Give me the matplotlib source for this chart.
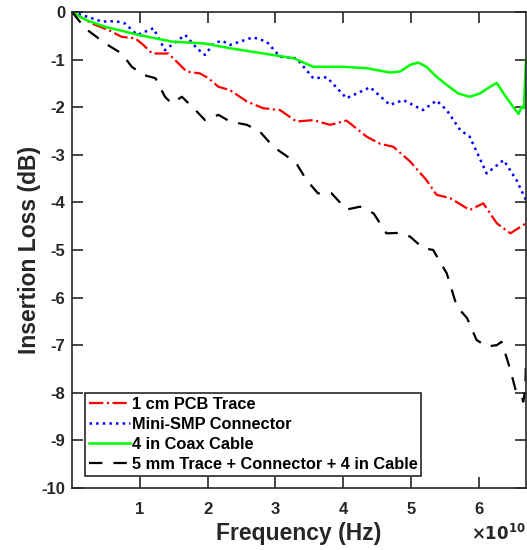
import matplotlib
matplotlib.use("Agg")
import matplotlib.pyplot as plt

plt.rcParams['font.family'] = ['Liberation Sans', 'DejaVu Sans']
plt.rcParams['font.weight'] = 'bold'
plt.rcParams['axes.unicode_minus'] = False

# frequencies in units of 1e10 Hz, loss in dB
f_pcb = [0, 0.29, 0.54, 0.73, 0.93, 1.05, 1.18, 1.42, 1.57, 1.69, 1.89, 2.01, 2.16, 2.33, 2.58, 2.82,
         3.07, 3.31, 3.56, 3.81, 4.05, 4.35, 4.55, 4.74, 4.99, 5.23, 5.38, 5.58, 5.87, 6.07, 6.27,
         6.47, 6.70]
il_pcb = [0, -0.24, -0.38, -0.52, -0.55, -0.69, -0.87, -0.87, -1.08, -1.25, -1.29, -1.39, -1.57,
          -1.64, -1.88, -2.02, -2.06, -2.30, -2.27, -2.37, -2.28, -2.62, -2.77, -2.83, -3.14, -3.53,
          -3.84, -3.91, -4.16, -4.02, -4.44, -4.65, -4.44]

f_smp = [0, 0.14, 0.44, 0.64, 0.78, 0.96, 1.2, 1.37, 1.47, 1.67, 1.84, 1.96, 2.09, 2.21, 2.33, 2.67,
         2.87, 3.07, 3.31, 3.56, 3.76, 4.05, 4.40, 4.69, 4.89, 5.18, 5.38, 5.53, 5.73, 5.87, 6.12,
         6.37, 6.56, 6.70]
il_smp = [0, -0.06, -0.20, -0.19, -0.24, -0.48, -0.34, -0.80, -0.69, -0.48, -0.76, -0.90, -0.66,
          -0.60, -0.69, -0.53, -0.62, -0.94, -0.97, -1.39, -1.37, -1.81, -1.58, -1.95, -1.85, -2.06,
          -1.86, -2.06, -2.48, -2.62, -3.39, -3.11, -3.53, -3.95]

f_coax = [0, 0.21, 0.49, 0.98, 1.47, 1.96, 2.33, 2.87, 3.27, 3.56, 4.0, 4.35, 4.69, 4.84, 4.99, 5.11,
          5.23, 5.38, 5.53, 5.70, 5.87, 6.02, 6.17, 6.27, 6.37, 6.51, 6.59, 6.64, 6.67, 6.70]
il_coax = [0, -0.17, -0.31, -0.48, -0.62, -0.66, -0.76, -0.88, -0.97, -1.15, -1.15, -1.18, -1.27,
           -1.25, -1.11, -1.06, -1.15, -1.36, -1.53, -1.71, -1.78, -1.71, -1.57, -1.49, -1.71, -1.99,
           -2.14, -1.99, -2.02, -1.0]

f_all = [0, 0.19, 0.49, 0.73, 0.88, 1.05, 1.23, 1.37, 1.47, 1.62, 1.82, 1.96, 2.16, 2.33, 2.58, 2.77,
         2.97, 3.17, 3.31, 3.46, 3.63, 3.83, 4.05, 4.25, 4.45, 4.64, 4.84, 4.99, 5.18, 5.33, 5.53,
         5.68, 5.83, 5.97, 6.12, 6.27, 6.34, 6.44, 6.49, 6.56, 6.64, 6.66, 6.69, 6.70]
il_all = [0, -0.34, -0.66, -0.87, -1.15, -1.32, -1.39, -1.78, -1.92, -1.78, -2.06, -2.27, -2.16,
          -2.30, -2.37, -2.51, -2.83, -3.03, -3.18, -3.53, -3.81, -3.81, -4.15, -4.09, -4.23, -4.65,
          -4.64, -4.72, -4.96, -5.0, -5.49, -6.19, -6.43, -6.89, -7.03, -7.0, -6.93, -7.38, -7.63,
          -8.01, -8.08, -8.19, -7.94, -7.35]

labels = ["1 cm PCB Trace", "Mini-SMP Connector", "4 in Coax Cable",
          "5 mm Trace + Connector + 4 in Cable"]
xtick_vals = [1, 2, 3, 4, 5, 6]
ytick_vals = list(range(-10, 1))

fig = plt.figure(figsize=(5.27, 5.5), dpi=100)
ax = fig.add_axes([0.137, 0.113, 0.861, 0.865])

ax.plot([v * 1e10 for v in f_pcb], il_pcb, color='#FF0000', linestyle='-.', linewidth=1.6, label=labels[0])
ax.plot([v * 1e10 for v in f_smp], il_smp, color='#0000FF', linestyle=':', linewidth=1.8, label=labels[1])
ax.plot([v * 1e10 for v in f_coax], il_coax, color='#00FF00', linestyle='-', linewidth=1.8, label=labels[2])
ax.plot([v * 1e10 for v in f_all], il_all, color='black', linestyle=(0, (6, 5)), linewidth=1.6, label=labels[3])

ax.set_xlim(0, 6.7e10)
ax.set_ylim(-10, 0)
ax.set_xticks([v * 1e10 for v in xtick_vals])
ax.set_xticklabels([str(v) for v in xtick_vals])
ax.set_yticks(ytick_vals)
ax.set_yticklabels([str(v) for v in ytick_vals])

ax.tick_params(direction='in', length=8, width=1.2, top=True, right=True, labelsize=12, colors='#262626')
ax.tick_params(axis='x', pad=10)
ax.tick_params(axis='y', pad=5)
for s in ax.spines.values():
    s.set_linewidth(1.2)
    s.set_color('#262626')

ax.set_xlabel("Frequency (Hz)", fontsize=16.5, fontweight='bold', color='#262626', labelpad=4)
ax.set_ylabel("Insertion Loss (dB)", fontsize=16.5, fontweight='bold', color='#262626', labelpad=0)
fig.text(0.997, 0.031, r"$\times\mathbf{10}^{\mathbf{10}}$", ha='right', va='center', fontsize=12,
         color='#262626')

leg = ax.legend(loc='lower left', bbox_to_anchor=(0.028, 0.025), borderaxespad=0, fontsize=11.8,
                handlelength=2.5, handletextpad=0.1, labelspacing=0.3, borderpad=0.25, fancybox=False,
                framealpha=1, edgecolor='#262626')
leg.get_frame().set_linewidth(1.2)

fig.savefig("out.png", dpi=100)
